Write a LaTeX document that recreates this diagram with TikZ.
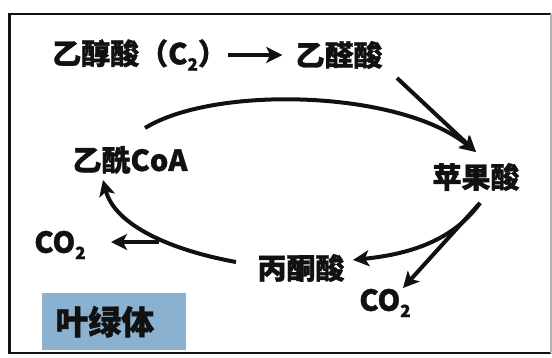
\documentclass[tikz,border=0pt]{standalone}
\usepackage{fontspec}
\setmainfont{Noto Sans CJK SC}[BoldFeatures={FakeBold=1.2}]
\usetikzlibrary{arrows.meta}
\definecolor{boxblue}{HTML}{8AB2D0}
\definecolor{ink}{HTML}{111111}
\newcommand\subtwo{\raisebox{-0.4ex}{\fontsize{17}{17}\selectfont 2}}
\tikzset{
  lbl/.style={font=\fontsize{29}{29}\selectfont\bfseries, text=ink, inner sep=1pt},
  arr/.style={line width=4pt, draw=ink, -{Stealth[length=16pt,width=16pt,inset=4pt]}},
}
\begin{document}
\begin{tikzpicture}[x=1pt,y=-1pt]
\useasboundingbox (0,0) rectangle (552,358);
\fill[white] (0,0) rectangle (552,358);
% frame
\draw[line width=2.6pt, draw=ink] (551,14) -- (9.5,14) -- (9.5,353) -- (551,353);
\draw[line width=1.5pt, draw=gray!60] (551,14) -- (551,353);

\node[lbl, anchor=west] (a) at (51,55) {乙醇酸（C\subtwo）};
\node[lbl] (b) at (339,55) {乙醛酸};
\node[lbl] (c) at (130,160) {乙酰CoA};
\node[lbl] (d) at (476,177) {苹果酸};
\node[lbl] (e) at (301,268) {丙酮酸};
\node[lbl] (f) at (60,245) {CO\subtwo};
\node[lbl] (g) at (385,303) {CO\subtwo};
\node[fill=boxblue, anchor=north west, minimum height=57pt, text width=118pt, inner xsep=13pt, inner ysep=0pt, align=left,
      font=\fontsize{33}{33}\selectfont\bfseries, text=ink] (h) at (42,293) {叶绿体};

% connector end points
\coordinate (bOut) at (397,78);
\coordinate (dIn) at (476,152);
\coordinate (cOut) at (145,128);
\coordinate (dOut) at (480,203);
\coordinate (eIn) at (353,260);
\coordinate (gIn) at (403,288);
\coordinate (eOut) at (236,262);
\coordinate (cIn) at (103,180);
\coordinate (br) at (159,242);
\coordinate (fIn) at (111,242);

\draw[arr] (a.east) -- ([xshift=-12pt]b.west);
\draw[arr] (bOut) -- (dIn);
\draw[arr] (cOut) .. controls (215,85) and (400,90) .. (dIn);
\draw[arr] (dOut) .. controls (450,245) and (400,255) .. (eIn);
\draw[arr] (dOut) -- (gIn);
\draw[arr] (eOut) .. controls (170,250) and (115,225) .. (cIn);
\draw[arr] (br) -- (fIn);
\end{tikzpicture}
\end{document}
